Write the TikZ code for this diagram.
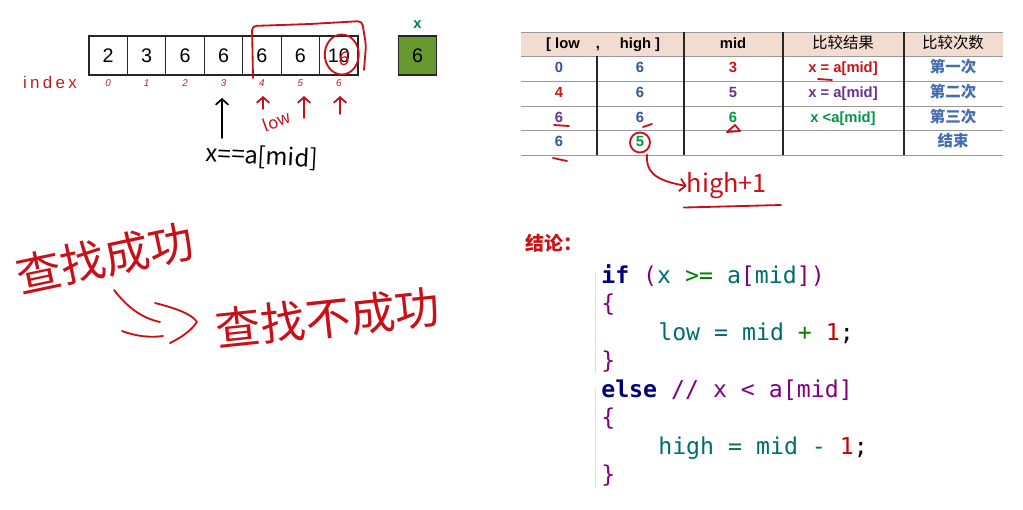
\documentclass[tikz,border=0pt]{standalone}
\usepackage{fontspec}
\setmainfont{Liberation Sans}
\setmonofont{DejaVu Sans Mono}
\newfontfamily\cjk{Noto Sans CJK SC}
\newfontfamily\indexfont[LetterSpace=20]{Liberation Sans}
\usetikzlibrary{arrows.meta}

\definecolor{handred}{RGB}{200,16,24}
\definecolor{idxred}{RGB}{190,30,30}
\definecolor{xgreen}{RGB}{104,152,48}
\definecolor{labgreen}{RGB}{0,128,64}
\definecolor{headfill}{RGB}{242,220,208}
\definecolor{tblue}{RGB}{55,85,150}
\definecolor{tsteel}{RGB}{70,110,175}
\definecolor{tred}{RGB}{200,20,20}
\definecolor{tpurple}{RGB}{100,50,150}
\definecolor{tgreen}{RGB}{0,150,70}
\definecolor{kwnavy}{RGB}{0,0,128}
\definecolor{cpurple}{RGB}{128,0,128}
\definecolor{cteal}{RGB}{0,110,110}
\definecolor{cgreen}{RGB}{0,128,0}
\definecolor{cred}{RGB}{200,0,0}

\begin{document}
\begin{tikzpicture}[x=0.025cm, y=-0.025cm,
    cell/.style={draw=black!85, line width=0.8pt, minimum width=0.96cm, minimum height=0.975cm, inner sep=0pt, font=\fontsize{14}{16}\selectfont},
    idx/.style={font=\fontsize{7}{8}\selectfont\itshape, text=idxred},
    tbl/.style={font=\fontsize{10.5}{12}\selectfont\bfseries, text height=1.5ex, text depth=0.35ex, inner sep=0pt},
    tcjk/.style={font=\cjk\fontsize{11}{12}\selectfont, text height=1.5ex, text depth=0.35ex, inner sep=0pt},
    grid/.style={draw=black!40, line width=0.6pt},
    sep/.style={draw=black!85, line width=0.8pt},
    hand/.style={draw=handred, line width=1.3pt, line cap=round, line join=round},
    handtip/.style={-{Straight Barb[length=4pt, width=9pt]}},
    handtext/.style={font=\cjk\fontsize{#1}{#1}\selectfont, text=handred, inner sep=0pt},
    code/.style={anchor=base west, inner sep=0pt, font=\ttfamily\fontsize{16.5}{20}\selectfont},
    guide/.style={draw=black!12, line width=0.6pt}
]
\useasboundingbox (0,0) rectangle (1023,509);

    % Array and indices
    \foreach \v [count=\i from 0] in {2,3,6,6,6,6,10} {
        \node[cell] (c\i) at ({108.2+38.43*\i}, 55.5) {\v};
        \node[idx] (i\i) at ({108.2+38.43*\i}, 83) {\i};
    }
    \node[font=\indexfont\fontsize{12}{14}\selectfont, text=idxred] (index) at (50,82) {index};

    % Key x
    \node[cell, fill=xgreen] (xbox) at (417.5,55.5) {6};
    \node[font=\fontsize{10.5}{12}\selectfont\bfseries, text=labgreen] (xlab) at (417.5,25) {x};

    % Marks on the array
    \draw[hand, rounded corners=3pt] (253,78) -- (252,26) -- (310,24) -- (362,21) -- (366,45) -- (364,70);
    \draw[hand] (c6.center) ++(3,-1) ellipse [x radius=17, y radius=20];
    \node[font=\fontsize{14}{16}\selectfont\itshape, text=handred, inner sep=0pt] (six) at (344,59) {6};
    \coordinate (midfoot) at (222,138);
    \draw[line width=1.2pt, line cap=round, handtip] (midfoot) -- ++(0,-40);
    \node[font=\cjk\fontsize{17}{20}\selectfont, rotate=-3, inner sep=0pt] (eqnote) at (262,157) {x==a[mid]};
    \foreach \x/\len in {263/13, 304/22, 340/18}
        \draw[hand, handtip] (\x,96+\len) -- (\x,96);
    \node[handtext=12, rotate=20] (lownote) at (277,121) {low};

    % Table
    \fill[headfill] (521,32) rectangle (1003,56);
    \foreach \y in {32,56,81,106,130,155}
        \draw[grid] (521,\y) -- (1003,\y);
    \foreach \x in {684,783,904}
        \draw[sep] (\x,32) -- (\x,155);
    \draw[sep] (597,56) -- (597,155);

    \node[tbl] (hlow) at (563,44) {[ low};
    \node[tbl] (hcomma) at (598,44) {,};
    \node[tbl] (hhigh) at (640,44) {high ]};
    \node[tbl] (hmid) at (733,44) {mid};
    \node[tcjk] (hres) at (843,44) {比较结果};
    \node[tcjk] (hcnt) at (953,44) {比较次数};

    \foreach \y/\lo/\lc/\hi/\hc/\md/\mc [count=\k] in {68.5/0/tblue/6/tblue/3/tred, 93.5/4/tred/6/tblue/5/tpurple, 118/6/tpurple/6/tblue/6/tgreen, 142.5/6/tblue/5/tgreen//black} {
        \node[tbl, text=\lc] (lo\k) at (559,\y) {\lo};
        \node[tbl, text=\hc] (hi\k) at (640,\y) {\hi};
        \node[tbl, text=\mc] (md\k) at (733,\y) {\md};
    }
    \node[tbl, text=tred] (res1) at (843,68.5) {x = a[mid]};
    \node[tbl, text=tpurple] (res2) at (843,93.5) {x = a[mid]};
    \node[tbl, text=tgreen] (res3) at (843,118) {x <a[mid]};
    \foreach \y/\t [count=\k] in {68.5/第一次, 93.5/第二次, 118/第三次, 142.5/结束}
        \node[tcjk, font=\cjk\bfseries\fontsize{11}{12}\selectfont, text=tsteel] (cnt\k) at (953,\y) {\t};

    % Marks on the table
    \draw[hand] (818,79) -- (832,80);
    \draw[hand] (554,125) -- (569,126);
    \draw[hand] (643,127) -- (652,124);
    \draw[hand] (727,132) -- (740,131) -- (735,125) -- cycle;
    \draw[hand] (553,158) -- (567,161);
    \draw[hand] (hi4) circle [radius=10];
    \node[handtext=18] (hinote) at (727,186) {high+1};
    \draw[hand, handtip] (hi4.south) ++(7,5) .. controls (646,170) and (652,180) .. (hinote.west);
    \draw[hand] (hinote.south west) ++(-3,8) -- (781,205);

    % Handwriting on the left
    \node[handtext=32, rotate=12] (found) at (105,258) {查找成功};
    \node[handtext=32, rotate=6] (notfound) at (328,318) {查找不成功};
    \draw[hand] (114,290) .. controls (128,308) and (142,318) .. (160,322);
    \draw[hand] (122,331) .. controls (135,336) and (150,338) .. (163,336);
    \draw[hand] (155,303) .. controls (175,308) and (192,314) .. (197,322) .. controls (190,332) and (180,338) .. (170,343);

    % Conclusion
    \node[font=\cjk\bfseries\fontsize{13.5}{16}\selectfont, text=tred] (concl) at (554,243) {结论：};
    \draw[guide] (595,272) -- (595,373);
    \draw[guide] (595,388) -- (595,487);
    \node[code] (l1) at (601,283) {\textcolor{kwnavy}{\bfseries if} \textcolor{cpurple}{(}\textcolor{cteal}{x} \textcolor{cgreen}{>=} \textcolor{cteal}{a}\textcolor{cpurple}{[}\textcolor{cteal}{mid}\textcolor{cpurple}{])}};
    \node[code, text=cpurple] (l2) at (601,311.5) {\{};
    \node[code] (l3) at (658,340) {\textcolor{cteal}{low = mid} \textcolor{cgreen}{+} \textcolor{cred}{1};};
    \node[code, text=cpurple] (l4) at (601,368.5) {\}};
    \node[code] (l5) at (601,397) {\textcolor{kwnavy}{\bfseries else} \textcolor{cpurple}{// x < a[mid]}};
    \node[code, text=cpurple] (l6) at (601,425.5) {\{};
    \node[code] (l7) at (658,454) {\textcolor{cteal}{high = mid -} \textcolor{cred}{1};};
    \node[code, text=cpurple] (l8) at (601,482.5) {\}};

\end{tikzpicture}
\end{document}
